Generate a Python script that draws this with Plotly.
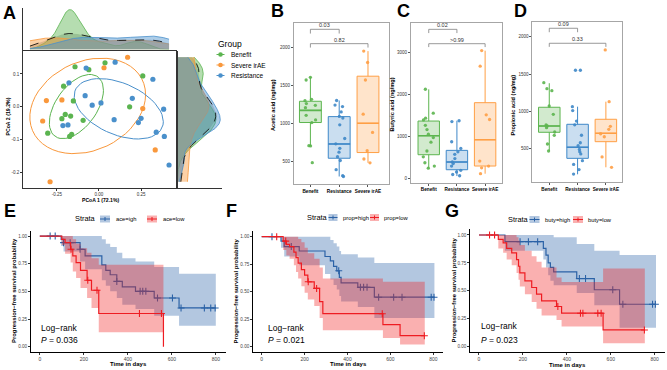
import numpy as np
import plotly.graph_objects as go

W, H = 667, 370
FONT = "Liberation Sans, Arial, sans-serif"

# ---------------- Panel A data (PCoA) ----------------
groups = ["Benefit", "Severe irAE", "Resistance"]
group_colors = ["#5BB450", "#F9983C", "#4A90CB"]
benefit_pc1 = [-0.142, -0.060, 0.036, -0.210, -0.152, -0.200, -0.220, -0.168, -0.304, -0.174, -0.162, -0.094, 0.182, 0.260]
benefit_pc2 = [0.122, 0.113, 0.134, 0.063, 0.018, -0.023, -0.036, -0.028, -0.080, -0.090, -0.084, -0.041, 0.000, 0.094]
severe_pc1 = [0.170, 0.030, -0.312, -0.220, -0.334, 0.260, 0.334, -0.290]
severe_pc2 = [0.151, 0.119, 0.019, 0.021, -0.043, -0.005, -0.131, -0.228]
resist_pc1 = [0.096, -0.076, -0.178, -0.082, -0.040, 0.012, 0.090, 0.198, 0.250, 0.234, 0.320, 0.384, 0.340, 0.388, 0.416, -0.214, -0.184]
resist_pc2 = [0.136, 0.118, 0.073, 0.034, 0.005, 0.012, -0.039, 0.026, -0.035, -0.048, 0.084, -0.007, -0.077, -0.090, -0.177, -0.057, -0.055]
pc1_ticks = [-0.25, 0.0, 0.25]
pc2_ticks = [-0.2, -0.1, 0.0, 0.1]
ellipse_level = 0.57

# ---------------- Panels B-D data (SCFA boxplots) ----------------
box_categories = ["Benefit", "Resistance", "Severe irAE"]
box_colors = ["#5CB54F", "#3F88C8", "#FF9F45"]

acetic_benefit = [1570, 1605, 1316, 1298, 1259, 1237, 1206, 1105, 1044, 1009, 706, 702, 482]
acetic_resist = [1300, 1240, 1220, 1150, 1090, 1070, 980, 800, 730, 670, 620, 560, 510, 390, 310, 300]
acetic_severe = [1950, 1800, 1570, 1120, 880, 640, 530, 480]
acetic_stats = [[1010, 1170, 1290, 702, 1605], [540, 728, 1088, 300, 1300], [615, 1000, 1620, 480, 1950]]
acetic_brackets = [[0, 1, 2237, "0.03"], [0, 2, 2048, "0.82"]]
acetic_ticks = [500, 1000, 1500, 2000]

butyric_benefit = [2130, 1560, 1440, 1400, 1270, 1170, 1060, 980, 870, 660, 520, 380, 300, 250]
butyric_resist = [1380, 1360, 880, 720, 640, 580, 480, 400, 360, 300, 200, 160, 100, 70]
butyric_severe = [3050, 2680, 1520, 1410, 420, 300, 260, 120]
butyric_stats = [[571, 1024, 1373, 246, 2127], [214, 397, 675, 63, 1381], [302, 929, 1810, 119, 3048]]
butyric_brackets = [[0, 1, 3556, "0.02"], [0, 2, 3214, ">0.99"]]
butyric_ticks = [0, 1000, 2000, 3000]

propionic_benefit = [1384, 1304, 1277, 1072, 961, 818, 804, 782, 724, 679, 563, 469]
propionic_resist = [1551, 1551, 1063, 1010, 870, 820, 680, 580, 540, 490, 460, 430, 340, 290, 220, 160]
propionic_severe = [1823, 1130, 800, 760, 700, 660, 390, 250]
propionic_stats = [[720, 804, 1055, 469, 1377], [371, 519, 827, 157, 1063], [594, 706, 894, 251, 1130]]
propionic_brackets = [[0, 1, 2113, "0.09"], [0, 2, 1912, "0.33"]]
propionic_ticks = [500, 1000, 1500, 2000]

# ---------------- Panels E-G data (Kaplan-Meier) ----------------
km_time_ticks = [0, 200, 400, 600, 800]
km_surv_ticks = [0.0, 0.25, 0.5, 0.75, 1.0]

E_high_t = [0, 97, 108, 183, 206, 282, 300, 320, 350, 375, 435, 520, 633]
E_high_s = [1, 0.97, 0.94, 0.88, 0.82, 0.74, 0.69, 0.65, 0.59, 0.54, 0.50, 0.44, 0.35]
E_high_up = [1, 1, 1, 1, 1, 0.97, 0.93, 0.90, 0.85, 0.80, 0.77, 0.72, 0.66]
E_high_lo = [1, 0.91, 0.86, 0.77, 0.70, 0.60, 0.55, 0.50, 0.44, 0.38, 0.34, 0.28, 0.19]
E_high_cens = [47, 70, 108, 138, 183, 350, 456, 468, 482, 535, 603, 642, 748, 777, 797]
E_high_end = 800
E_low_t = [0, 100, 115, 140, 150, 165, 185, 215, 235, 268, 562]
E_low_s = [1, 0.97, 0.94, 0.88, 0.82, 0.76, 0.69, 0.60, 0.51, 0.30, 0.0]
E_low_up = [1, 1, 1, 1, 0.97, 0.93, 0.89, 0.85, 0.80, 0.74, 0.74]
E_low_lo = [1, 0.92, 0.84, 0.76, 0.68, 0.62, 0.53, 0.44, 0.35, 0.13, 0.13]
E_low_cens = [142, 218, 260, 453, 553]
E_low_end = 562

F_high_t = [0, 90, 105, 175, 295, 320, 335, 350, 362, 370, 448, 525]
F_high_s = [1, 0.96, 0.91, 0.87, 0.82, 0.78, 0.73, 0.69, 0.63, 0.58, 0.54, 0.45]
F_high_up = [1, 1, 1, 1, 1, 0.97, 0.94, 0.91, 0.87, 0.84, 0.81, 0.76]
F_high_lo = [1, 0.90, 0.82, 0.74, 0.66, 0.61, 0.56, 0.52, 0.46, 0.41, 0.36, 0.26]
F_high_cens = [48, 138, 359, 460, 475, 491, 545, 615, 654, 790, 803]
F_high_end = 805
F_low_t = [0, 100, 115, 130, 150, 160, 170, 185, 200, 215, 245, 270, 285, 565, 645]
F_low_s = [1, 0.96, 0.93, 0.91, 0.86, 0.81, 0.76, 0.70, 0.65, 0.59, 0.53, 0.41, 0.30, 0.20, 0.10]
F_low_up = [1, 1, 1, 1, 1, 1, 0.98, 0.95, 0.90, 0.85, 0.80, 0.72, 0.62, 0.59, 0.59]
F_low_lo = [1, 0.88, 0.83, 0.80, 0.74, 0.68, 0.62, 0.55, 0.49, 0.43, 0.37, 0.26, 0.15, 0.08, 0.02]
F_low_cens = [70, 112, 217, 256, 562, 758]
F_low_end = 760

G_high_t = [0, 118, 293, 305, 315, 325, 340, 445, 525, 640]
G_high_s = [1, 0.94, 0.88, 0.82, 0.75, 0.71, 0.67, 0.61, 0.51, 0.38]
G_high_up = [1, 1, 1, 1, 1, 1, 0.98, 0.92, 0.86, 0.82]
G_high_lo = [1, 0.86, 0.78, 0.71, 0.64, 0.59, 0.55, 0.48, 0.37, 0.17]
G_high_cens = [187, 225, 267, 457, 485, 609, 655, 790, 803]
G_high_end = 806
G_low_t = [0, 88, 110, 126, 149, 171, 180, 186, 209, 240, 262, 285, 353, 376, 565]
G_low_s = [1, 0.96, 0.93, 0.88, 0.84, 0.78, 0.72, 0.66, 0.59, 0.53, 0.47, 0.41, 0.36, 0.30, 0.15]
G_low_up = [1, 1, 1, 1, 1, 0.98, 0.95, 0.91, 0.86, 0.81, 0.76, 0.71, 0.62, 0.58, 0.70]
G_low_lo = [1, 0.88, 0.84, 0.78, 0.73, 0.66, 0.60, 0.54, 0.47, 0.40, 0.34, 0.28, 0.24, 0.18, 0.03]
G_low_cens = [48, 71, 359, 462, 473, 541, 556, 753]
G_low_end = 755

km_labels = [["ace=igh", "ace=low"], ["prop=high", "prop=low"], ["buty=high", "buty=low"]]
km_pvalues = ["0.036", "0.021", "0.023"]

# ---------------- helpers ----------------
def rgba(hexc, a):
    h = hexc.lstrip('#')
    return f"rgba({int(h[0:2],16)},{int(h[2:4],16)},{int(h[4:6],16)},{a})"

def fx(px):
    return px / W

def fy(py):
    return 1 - py / H

def cov_trob(X, nu=5, maxit=25, tol=0.01):
    n, p = X.shape
    loc = X.mean(0)
    w = np.ones(n)
    Xc = X - loc
    for _ in range(maxit):
        w0 = w
        Xc = X - loc
        A = np.sqrt(w / w.sum())[:, None] * Xc
        _, d, Vt = np.linalg.svd(A, full_matrices=False)
        wX = Xc @ Vt.T @ np.diag(1 / d)
        Q = (wX ** 2).sum(1)
        w = (nu + p) / (nu + Q)
        loc = (w[:, None] * X).sum(0) / w.sum()
        if np.all(np.abs(w - w0) < tol):
            break
    S = np.sqrt(w)[:, None] * Xc
    return loc, S.T @ S / n

def stat_ellipse(xs, ys, level=0.95, seg=51):
    X = np.column_stack([xs, ys])
    n = len(xs)
    center, shape = cov_trob(X)
    d2 = n - 1
    fq = d2 / 2 * ((1 - level) ** (-2 / d2) - 1)
    radius = np.sqrt(2 * fq)
    ang = np.linspace(0, 2 * np.pi, seg + 1)
    circ = np.column_stack([np.cos(ang), np.sin(ang)])
    L = np.linalg.cholesky(shape)
    e = center + radius * (circ @ L.T)
    return e[:, 0], e[:, 1]

def nrd0(x):
    x = np.asarray(x)
    sd = x.std(ddof=1)
    q75, q25 = np.percentile(x, [75, 25])
    lo = min(sd, (q75 - q25) / 1.34)
    if lo <= 0:
        lo = sd
    return 0.9 * lo * len(x) ** -0.2

def kde(x, grid):
    x = np.asarray(x)
    bw = nrd0(x)
    z = (grid[:, None] - x[None, :]) / bw
    return np.exp(-0.5 * z ** 2).sum(1) / (len(x) * bw * np.sqrt(2 * np.pi))

def step_path(times, vals, end):
    xs, ys = [], []
    for i, (t, v) in enumerate(zip(times, vals)):
        if i > 0:
            xs.append(t); ys.append(vals[i - 1])
        xs.append(t); ys.append(v)
    xs.append(end); ys.append(vals[-1])
    return xs, ys

fig = go.Figure()
annotations = []
shapes = []

def text(t, px, py, size, color="black", xanchor="center", yanchor="middle", angle=0, bold=False):
    if bold:
        t = f"<b>{t}</b>"
    annotations.append(dict(text=t, x=fx(px), y=fy(py), xref="paper", yref="paper", showarrow=False,
                            xanchor=xanchor, yanchor=yanchor, textangle=angle,
                            font=dict(size=size, color=color, family=FONT)))

# ---------------- Panel A ----------------
pcx = [benefit_pc1, severe_pc1, resist_pc1]
pcy = [benefit_pc2, severe_pc2, resist_pc2]
ells = [stat_ellipse(np.array(a), np.array(b), level=ellipse_level) for a, b in zip(pcx, pcy)]
allx = np.concatenate([np.array(v) for v in pcx] + [e[0] for e in ells])
ally = np.concatenate([np.array(v) for v in pcy] + [e[1] for e in ells])
xlo, xhi = allx.min(), allx.max()
ylo, yhi = ally.min(), ally.max()
xr = [xlo - 0.05 * (xhi - xlo), xhi + 0.05 * (xhi - xlo)]
yr = [ylo - 0.05 * (yhi - ylo), yhi + 0.05 * (yhi - ylo)]

for (ex, ey), col in zip(ells, group_colors):
    fig.add_trace(go.Scatter(x=ex, y=ey, mode="lines", line=dict(color=col, width=1),
                             xaxis="x", yaxis="y", showlegend=False, hoverinfo="skip"))
for a, b, col in zip(pcx, pcy, group_colors):
    fig.add_trace(go.Scatter(x=a, y=b, mode="markers", marker=dict(color=col, size=5.2),
                             xaxis="x", yaxis="y", showlegend=False))

# marginal densities
all_pc1 = np.concatenate([np.array(v) for v in pcx])
all_pc2 = np.concatenate([np.array(v) for v in pcy])
gx = np.linspace(xlo, all_pc1.max(), 512)
gy = np.linspace(all_pc2.min(), yhi, 512)
dens_top = [kde(v, gx) for v in pcx]
dens_top_all = kde(all_pc1, gx)
dens_right = [kde(v, gy) for v in pcy]
dens_right_all = kde(all_pc2, gy)

fig.add_trace(go.Scatter(x=gx, y=dens_top_all, mode="lines", fill="tozeroy", fillcolor="rgba(110,110,110,0.35)",
                         line=dict(color="rgba(0,0,0,0)", width=0), xaxis="x2", yaxis="y2", showlegend=False, hoverinfo="skip"))
for d, col in zip(dens_top, group_colors):
    fig.add_trace(go.Scatter(x=gx, y=d, mode="lines", fill="tozeroy", fillcolor=rgba(col, 0.45),
                             line=dict(color=col, width=0.8), xaxis="x2", yaxis="y2", showlegend=False, hoverinfo="skip"))
fig.add_trace(go.Scatter(x=gx, y=dens_top_all, mode="lines", line=dict(color="black", width=0.8, dash="dash"),
                         xaxis="x2", yaxis="y2", showlegend=False, hoverinfo="skip"))

fig.add_trace(go.Scatter(x=dens_right_all, y=gy, mode="lines", fill="tozerox", fillcolor="rgba(110,110,110,0.35)",
                         line=dict(color="rgba(0,0,0,0)", width=0), xaxis="x3", yaxis="y3", showlegend=False, hoverinfo="skip"))
for d, col in zip(dens_right, group_colors):
    fig.add_trace(go.Scatter(x=d, y=gy, mode="lines", fill="tozerox", fillcolor=rgba(col, 0.45),
                             line=dict(color=col, width=0.8), xaxis="x3", yaxis="y3", showlegend=False, hoverinfo="skip"))
fig.add_trace(go.Scatter(x=dens_right_all, y=gy, mode="lines", line=dict(color="black", width=0.8, dash="dash"),
                         xaxis="x3", yaxis="y3", showlegend=False, hoverinfo="skip"))

top_max = max(max(d.max() for d in dens_top), dens_top_all.max())
right_max = max(max(d.max() for d in dens_right), dens_right_all.max())

# ---------------- Panels B-D ----------------
box_sets = [
    (4, [acetic_benefit, acetic_resist, acetic_severe], acetic_stats, acetic_brackets),
    (5, [butyric_benefit, butyric_resist, butyric_severe], butyric_stats, butyric_brackets),
    (6, [propionic_benefit, propionic_resist, propionic_severe], propionic_stats, propionic_brackets),
]
rng = np.random.default_rng(11)
for ax, pts_list, stats, brackets in box_sets:
    xa, ya = f"x{ax}", f"y{ax}"
    for i, (pts, st, col) in enumerate(zip(pts_list, stats, box_colors)):
        fig.add_trace(go.Box(x=[i], q1=[st[0]], median=[st[1]], q3=[st[2]], lowerfence=[st[3]], upperfence=[st[4]],
                             width=0.76, whiskerwidth=0, fillcolor=rgba(col, 0.28), line=dict(color=col, width=1),
                             boxpoints=False, xaxis=xa, yaxis=ya, showlegend=False, hoverinfo="skip"))
        fig.add_trace(go.Scatter(x=[i - 0.38, i + 0.38], y=[st[1], st[1]], mode="lines",
                                 line=dict(color=col, width=1.6), xaxis=xa, yaxis=ya, showlegend=False, hoverinfo="skip"))
        jit = rng.uniform(-0.2, 0.2, len(pts))
        fig.add_trace(go.Scatter(x=i + jit, y=pts, mode="markers", marker=dict(color=col, size=3.3, opacity=0.9),
                                 xaxis=xa, yaxis=ya, showlegend=False))
    for a, b, yb, lab in brackets:
        drop = yb * 0.025
        fig.add_trace(go.Scatter(x=[a, a, b, b], y=[yb - drop, yb, yb, yb - drop], mode="lines",
                                 line=dict(color="#7F7F7F", width=0.8), xaxis=xa, yaxis=ya, showlegend=False, hoverinfo="skip"))
        annotations.append(dict(text=lab, x=(a + b) / 2, y=yb, xref=xa, yref=ya, showarrow=False,
                                yanchor="bottom", yshift=-1, font=dict(size=5.5, color="#333333", family=FONT)))

# ---------------- Panels E-G ----------------
km_sets = [
    (7, (E_high_t, E_high_s, E_high_up, E_high_lo, E_high_cens, E_high_end),
        (E_low_t, E_low_s, E_low_up, E_low_lo, E_low_cens, E_low_end)),
    (8, (F_high_t, F_high_s, F_high_up, F_high_lo, F_high_cens, F_high_end),
        (F_low_t, F_low_s, F_low_up, F_low_lo, F_low_cens, F_low_end)),
    (9, (G_high_t, G_high_s, G_high_up, G_high_lo, G_high_cens, G_high_end),
        (G_low_t, G_low_s, G_low_up, G_low_lo, G_low_cens, G_low_end)),
]
km_line = ["#2B62A6", "#EE1C22"]
km_band = ["rgba(20,80,160,0.32)", "rgba(240,30,30,0.35)"]
for ax, *series in km_sets:
    xa, ya = f"x{ax}", f"y{ax}"
    for (t, s, up, lo, cens, end), lc, bc in zip(series, km_line, km_band):
        ux, uy = step_path(t, up, end)
        lx, ly = step_path(t, lo, end)
        fig.add_trace(go.Scatter(x=ux + lx[::-1], y=uy + ly[::-1], mode="lines", fill="toself", fillcolor=bc,
                                 line=dict(width=0, color="rgba(0,0,0,0)"), xaxis=xa, yaxis=ya,
                                 showlegend=False, hoverinfo="skip"))
        sx, sy = step_path(t, s, end)
        fig.add_trace(go.Scatter(x=sx, y=sy, mode="lines", line=dict(color=lc, width=1.2),
                                 xaxis=xa, yaxis=ya, showlegend=False, hoverinfo="skip"))
        idx = np.searchsorted(np.array(t), np.array(cens), side="right") - 1
        cy = np.array(s)[idx]
        fig.add_trace(go.Scatter(x=cens, y=cy, mode="markers",
                                 marker=dict(symbol="cross-thin", size=5, line=dict(color=lc, width=1.1)),
                                 xaxis=xa, yaxis=ya, showlegend=False, hoverinfo="skip"))

# ---------------- axes ----------------
layout = dict(width=W, height=H, margin=dict(l=0, r=0, t=0, b=0), paper_bgcolor="white", plot_bgcolor="rgba(0,0,0,0)",
              font=dict(family=FONT), showlegend=False)

tickfont = dict(size=4.5, color="#333333", family=FONT)

def dom_x(a, b):
    return [fx(a), fx(b)]

def dom_y(top, bottom):
    return [fy(bottom), fy(top)]

layout["xaxis"] = dict(domain=dom_x(23, 176), range=xr, tickvals=pc1_ticks, ticktext=["-0.25", "0.00", "0.25"],
                       showline=True, mirror=True, linecolor="#333333", linewidth=0.8, ticks="outside", ticklen=2,
                       tickwidth=0.6, tickcolor="#333333", showgrid=False, zeroline=False, tickfont=tickfont,
                       tickangle=0, anchor="y")
layout["yaxis"] = dict(domain=dom_y(51, 188), range=yr, tickvals=pc2_ticks, ticktext=["-0.2", "-0.1", "0.0", "0.1"],
                       showline=True, mirror=True, linecolor="#333333", linewidth=0.8, ticks="outside", ticklen=2,
                       tickwidth=0.6, tickcolor="#333333", showgrid=False, zeroline=False, tickfont=tickfont, anchor="x")
layout["xaxis2"] = dict(domain=dom_x(23, 176), range=xr, showticklabels=False, showline=True, linecolor="#333333",
                        linewidth=0.8, showgrid=False, zeroline=False, anchor="y2")
layout["yaxis2"] = dict(domain=dom_y(8, 49.5), range=[0, top_max * 1.04], showticklabels=False, showline=True,
                        linecolor="#333333", linewidth=0.8, showgrid=False, zeroline=False, anchor="x2")
layout["xaxis3"] = dict(domain=dom_x(177.5, 222), range=[0, right_max * 1.04], showticklabels=False, showline=True,
                        linecolor="#333333", linewidth=0.8, showgrid=False, zeroline=False, anchor="y3")
layout["yaxis3"] = dict(domain=dom_y(51, 188), range=yr, showticklabels=False, showline=True, linecolor="#333333",
                        linewidth=0.8, showgrid=False, zeroline=False, anchor="x3")

box_axes = [
    (4, (293.7, 389.3), (22.7, 184), [-0.58, 2.74], [201, 2324], acetic_ticks),
    (5, (410.7, 502.3), (22.7, 182.7), [-0.64, 2.61], [-95, 3714], butyric_ticks),
    (6, (532.3, 622.3), (21.7, 182.3), [-0.6, 2.58], [50, 2201], propionic_ticks),
]
for ax, (xa0, xa1), (ya0, ya1), xrng, yrng, yt in box_axes:
    layout[f"xaxis{ax}"] = dict(domain=dom_x(xa0, xa1), range=xrng, tickvals=[0, 1, 2],
                                ticktext=[f"<b>{c}</b>" for c in box_categories], showline=True, mirror=True,
                                linecolor="#A6A6A6", linewidth=0.8, ticks="outside", ticklen=2, tickwidth=0.6,
                                tickcolor="#555555", showgrid=False, zeroline=False, tickangle=0,
                                tickfont=dict(size=4.7, color="black", family=FONT), anchor=f"y{ax}")
    layout[f"yaxis{ax}"] = dict(domain=dom_y(ya0, ya1), range=yrng, tickvals=yt, showline=True, mirror=True,
                                linecolor="#A6A6A6", linewidth=0.8, ticks="outside", ticklen=2, tickwidth=0.6,
                                tickcolor="#555555", showgrid=False, zeroline=False, tickfont=tickfont, anchor=f"x{ax}")

km_axes = [
    (7, (31, 225.7), (230.5, 352.2)),
    (8, (253.1, 443), (231.2, 352.2)),
    (9, (470.2, 664.6), (229.4, 352.3)),
]
for ax, (xa0, xa1), (ya0, ya1) in km_axes:
    layout[f"xaxis{ax}"] = dict(domain=dom_x(xa0, xa1), range=[-40, 845], tickvals=km_time_ticks, showline=True,
                                linecolor="black", linewidth=0.8, ticks="outside", ticklen=2, tickwidth=0.6,
                                tickcolor="#333333", showgrid=False, zeroline=False, tickangle=0,
                                tickfont=dict(size=5, color="#444444", family=FONT), anchor=f"y{ax}")
    layout[f"yaxis{ax}"] = dict(domain=dom_y(ya0, ya1), range=[-0.05, 1.05], tickvals=km_surv_ticks,
                                tickformat=".2f", showline=True, linecolor="black", linewidth=0.8, ticks="outside",
                                ticklen=2, tickwidth=0.6, tickcolor="#333333", showgrid=False, zeroline=False,
                                tickfont=dict(size=4.6, color="#444444", family=FONT), anchor=f"x{ax}")

# ---------------- titles / labels ----------------
for lab, px, py in [("A", 9.5, 13.5), ("B", 277, 11), ("C", 403, 11), ("D", 520.5, 11),
                    ("E", 10, 211), ("F", 231, 211), ("G", 452, 211)]:
    text(lab, px, py, 18, bold=True)

text("PCoA 1 (72.1%)", 100, 199.8, 5.1, bold=True)
text("PCoA 2 (19.2%)", 7.5, 117, 5.2, bold=True, angle=-90)
text("Acetic acid (ng/mg)", 273, 105, 5.6, bold=True, angle=-90)
text("Butyric acid (ng/mg)", 391.5, 105, 5.6, bold=True, angle=-90)
text("Propionic acid (ng/mg)", 512.5, 105, 5.6, bold=True, angle=-90)

# Group legend (panel A)
text("Group", 215.5, 44, 8.5, xanchor="left")
for name, col, py in zip(groups, group_colors, [54.5, 65, 75.5]):
    shapes.append(dict(type="line", xref="paper", yref="paper", x0=fx(216.5), x1=fx(224.5), y0=fy(py), y1=fy(py),
                       line=dict(color=col, width=1)))
    shapes.append(dict(type="circle", xref="paper", yref="paper", x0=fx(218.2), x1=fx(222.8), y0=fy(py + 2.3),
                       y1=fy(py - 2.3), fillcolor=col, line=dict(width=0)))
    text(name, 228.5, py, 6.5, xanchor="left")

# KM texts and legends
km_text_pos = [
    dict(ytitle=14, ymid=291, xmid=128.5, xt=364, lr=(38.5, 327.7, 340), strata=73, k1=(100, 110), t1=114,
         k2=(147, 157), t2=161, ly=219),
    dict(ytitle=235.5, ymid=291, xmid=348, xt=363.5, lr=(265.5, 327.7, 339.5), strata=304.5, k1=(328.5, 337.5),
         t1=340.5, k2=(370, 379), t2=382, ly=217.5),
    dict(ytitle=453.5, ymid=290, xmid=567, xt=364.5, lr=(479, 326, 340), strata=506, k1=(529.5, 539.5), t1=542.5,
         k2=(573, 583), t2=586, ly=219.5),
]
for pos, labs, pv in zip(km_text_pos, km_labels, km_pvalues):
    text("Progression\u2212free survival probability", pos["ytitle"], pos["ymid"], 5.9, bold=True, angle=-90)
    text("Time in days", pos["xmid"], pos["xt"], 6, bold=True)
    lx, ly1, ly2 = pos["lr"]
    text("Log\u2212rank", lx, ly1, 8.5, xanchor="left")
    text(f"<i>P</i> = {pv}", lx, ly2, 8.5, xanchor="left")
    text("Strata", pos["strata"], pos["ly"], 7.4, xanchor="left")
    for (k0, k1), tx, lab, lc, bc in [(pos["k1"], pos["t1"], labs[0], km_line[0], km_band[0]),
                                      (pos["k2"], pos["t2"], labs[1], km_line[1], km_band[1])]:
        yy = pos["ly"]
        shapes.append(dict(type="rect", xref="paper", yref="paper", x0=fx(k0), x1=fx(k1), y0=fy(yy + 3.5),
                           y1=fy(yy - 3.5), fillcolor=bc, line=dict(width=0)))
        shapes.append(dict(type="line", xref="paper", yref="paper", x0=fx(k0), x1=fx(k1), y0=fy(yy), y1=fy(yy),
                           line=dict(color=lc, width=1)))
        cx = (k0 + k1) / 2
        shapes.append(dict(type="line", xref="paper", yref="paper", x0=fx(cx), x1=fx(cx), y0=fy(yy + 2), y1=fy(yy - 2),
                           line=dict(color=lc, width=1)))
        text(lab, tx, yy, 5.8, xanchor="left")

layout["annotations"] = annotations
layout["shapes"] = shapes
fig.update_layout(**layout)
fig.write_html("out.html", config={"displayModeBar": False},
               post_script="document.body.style.margin='0';document.body.style.padding='0';")
